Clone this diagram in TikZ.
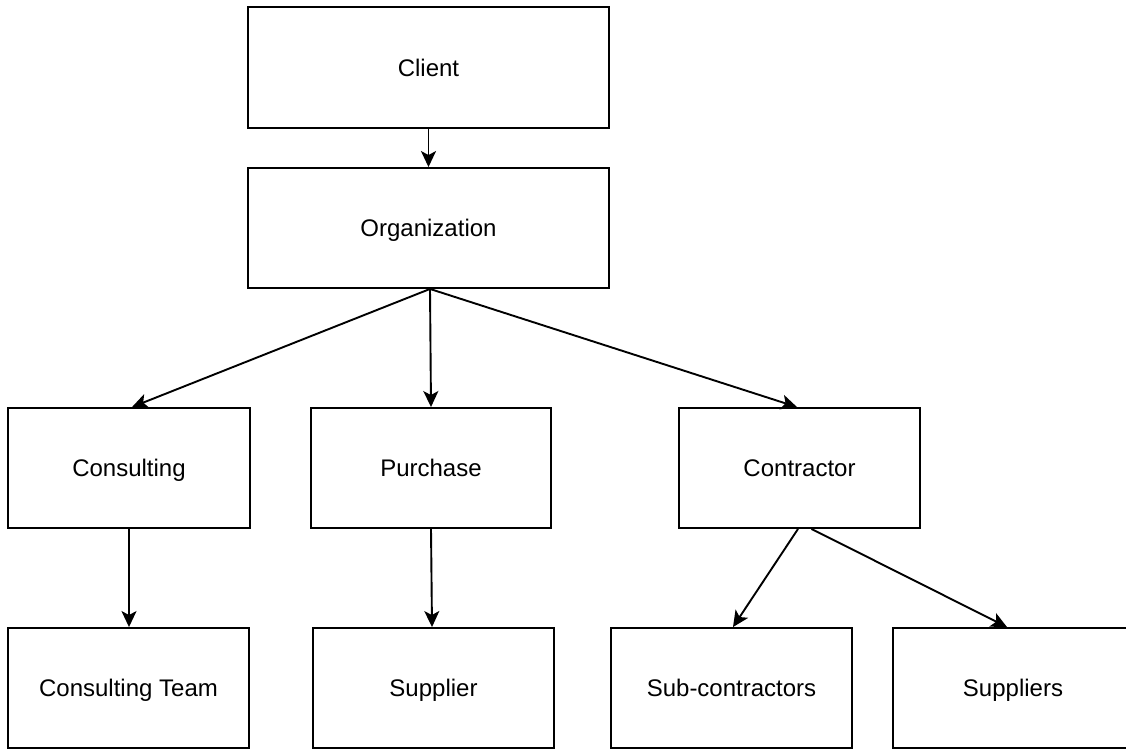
\documentclass[tikz,border=0pt]{standalone}
\usepackage{fontspec}
\setmainfont{Liberation Sans}
\usetikzlibrary{arrows.meta}
\begin{document}
\begin{tikzpicture}[x=1pt,y=-1pt,
  box/.style={draw, line width=1.9pt, minimum width=240pt, minimum height=120pt, inner sep=0pt, text height=17.2pt, text depth=0pt, font=\fontsize{24}{28}\selectfont},
  arr/.style={line width=1.9pt, -{Stealth[length=16pt,width=15pt,inset=4pt]}}]
\clip (0,0) rectangle (1126,749);
\useasboundingbox (0,0) rectangle (1126,749);
\node[box, minimum width=361pt, minimum height=121pt] (client) at (428.5,67.5) {Client};
\node[box, minimum width=361pt] (org) at (428.5,228) {Organization};
\node[box, minimum width=242pt] (cons) at (129,468) {Consulting};
\node[box] (pur) at (431,468) {Purchase};
\node[box, minimum width=241pt] (ctr) at (799.5,468) {Contractor};
\node[box, minimum width=241pt] (team) at (128.5,688) {Consulting Team};
\node[box, minimum width=241pt] (sup) at (433.5,688) {Supplier};
\node[box, minimum width=241pt] (sub) at (731.5,688) {Sub-contractors};
\node[box] (sups) at (1013,688) {Suppliers};
\draw[arr] (client) -- (org);
\draw[arr] ([xshift=1.5pt]org.south) -- ([xshift=3pt]cons.north);
\draw[arr] ([xshift=1.5pt]org.south) -- (pur.north);
\draw[arr] ([xshift=1.5pt]org.south) -- ([xshift=-2.5pt]ctr.north);
\draw[arr] (cons.south) -- (cons.south |- team.north);
\draw[arr] (pur.south) -- ([xshift=-1.5pt]sup.north);
\draw[arr] ([xshift=-1.5pt]ctr.south) -- ([xshift=1.5pt]sub.north);
\draw[arr] ([xshift=12pt]ctr.south) -- ([xshift=-6pt]sups.north);
\end{tikzpicture}
\end{document}
